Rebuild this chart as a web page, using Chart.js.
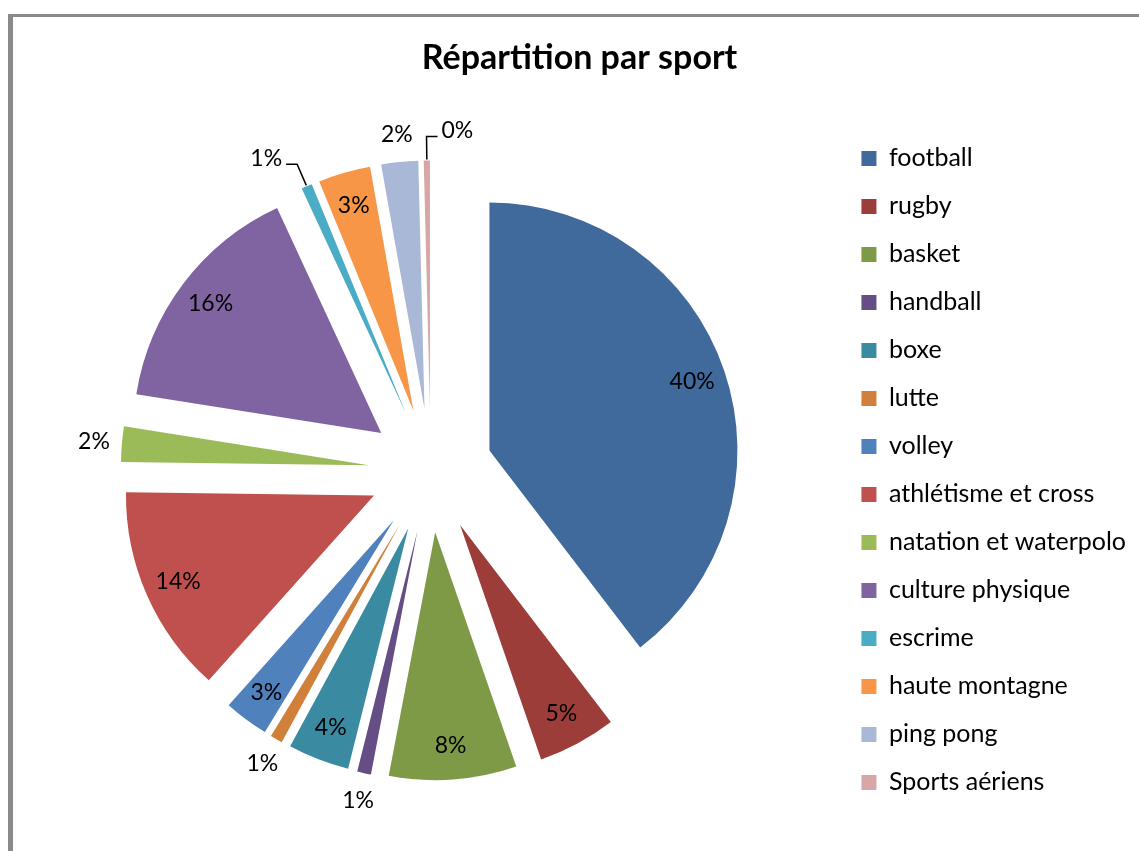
<!DOCTYPE html>
<html>
<head>
<meta charset="utf-8">
<script src="https://cdn.jsdelivr.net/npm/chart.js@4"></script>
<style>
  body { margin: 0; background: #fff; overflow: hidden; }
  #wrap { position: relative; width: 1139px; height: 851px; }
  #frame { position: absolute; left: 8px; top: 14px; width: 1200px; height: 900px;
           border-left: 5px solid #8a8a8a; border-top: 3px solid #8a8a8a; }
  canvas { position: absolute; left: 0; top: 0; }
</style>
</head>
<body>
<div id="wrap">
  <div id="frame"></div>
  <canvas id="myChart" width="1139" height="851"></canvas>
</div>
<script>
    // data
    const sports = ['football', 'rugby', 'basket', 'handball', 'boxe', 'lutte', 'volley',
      'athlétisme et cross', 'natation et waterpolo', 'culture physique', 'escrime',
      'haute montagne', 'ping pong', 'Sports aériens'];
    const parts = [39.6, 5.1, 8.3, 0.9, 4.0, 0.8, 2.9, 13.6, 2.3, 15.6, 0.7, 3.4, 2.4, 0.4];
    const colors = ['#3f6a9b', '#9d3d3a', '#7e9a47', '#654d85', '#3a8ba2', '#d0803a', '#4f81bd',
      '#c0504d', '#9bbb59', '#8064a2', '#4bacc6', '#f79646', '#a9b8d7', '#d8a6a6'];

    const total = parts.reduce((a, b) => a + b, 0);
    const PUSH = 62;   // explode distance in px
    const RAD = 248;

    // draw every arc pushed out by the same distance (chart.js offset grows the radius too)
    const explode = {
      id: 'explode',
      beforeDatasetDraw(chart, args) {
        const ctx = chart.ctx;
        args.meta.data.forEach(arc => {
          const mid = (arc.startAngle + arc.endAngle) / 2;
          ctx.save();
          ctx.translate(Math.cos(mid) * PUSH, Math.sin(mid) * PUSH);
          arc.draw(ctx);
          ctx.restore();
        });
        return false;
      }
    };

    const pctLabels = {
      id: 'pctLabels',
      afterDatasetsDraw(chart) {
        const ctx = chart.ctx;
        const meta = chart.getDatasetMeta(0);
        ctx.save();
        ctx.font = '23px Lato';
        ctx.fillStyle = '#000';
        ctx.strokeStyle = '#000';
        ctx.lineWidth = 1.5;
        meta.data.forEach((arc, i) => {
          const p = arc.getProps(['x', 'y', 'startAngle', 'endAngle', 'outerRadius'], true);
          const mid = (p.startAngle + p.endAngle) / 2;
          const dx = Math.cos(mid), dy = Math.sin(mid);
          const ax = p.x + dx * PUSH, ay = p.y + dy * PUSH;
          const pct = parts[i] / total * 100;
          const txt = Math.round(pct) + '%';
          ctx.textBaseline = 'middle';
          if (pct >= 2.5) {
            ctx.textAlign = 'center';
            ctx.fillText(txt, ax + dx * 214, ay + dy * 214);
          } else if (pct >= 0.75) {
            ctx.textAlign = 'center';
            ctx.fillText(txt, ax + dx * 276, ay + dy * 276);
          } else {
            // leader line
            const sx = ax + dx * (p.outerRadius + 1), sy = ay + dy * (p.outerRadius + 1);
            const ex = ax + dx * (p.outerRadius + 24), ey = ay + dy * (p.outerRadius + 24);
            const side = dx < -0.1 ? -1 : 1;
            ctx.beginPath();
            ctx.moveTo(sx, sy);
            ctx.lineTo(ex, ey);
            ctx.lineTo(ex + side * 11, ey);
            ctx.stroke();
            ctx.textAlign = side < 0 ? 'right' : 'left';
            ctx.fillText(txt, ex + side * 15, ey - 6);
          }
        });
        ctx.restore();
      }
    };

    const data = {
      labels: sports,
      datasets: [{
        data: parts,
        backgroundColor: colors,
        borderWidth: 0,
        hoverOffset: 0
      }]
    };

    const config = {
      type: 'pie',
      data,
      options: {
        responsive: false,
        animation: false,
        radius: RAD,
        layout: { padding: { left: 23, right: 3, bottom: 0 } },
        plugins: {
          title: {
            display: true,
            text: 'Répartition par sport',
            color: '#000',
            font: { family: 'Lato', size: 34, weight: 'bold' },
            padding: { top: 38, bottom: 11 }
          },
          legend: {
            position: 'right',
            fullSize: false,
            labels: {
              color: '#000',
              font: { family: 'Lato', size: 25 },
              boxWidth: 15,
              boxHeight: 15,
              padding: 23
            }
          },
          tooltip: { enabled: false }
        }
      },
      plugins: [explode, pctLabels]
    };

    const myChart = new Chart(document.getElementById('myChart'), config);
</script>
</body>
</html>
